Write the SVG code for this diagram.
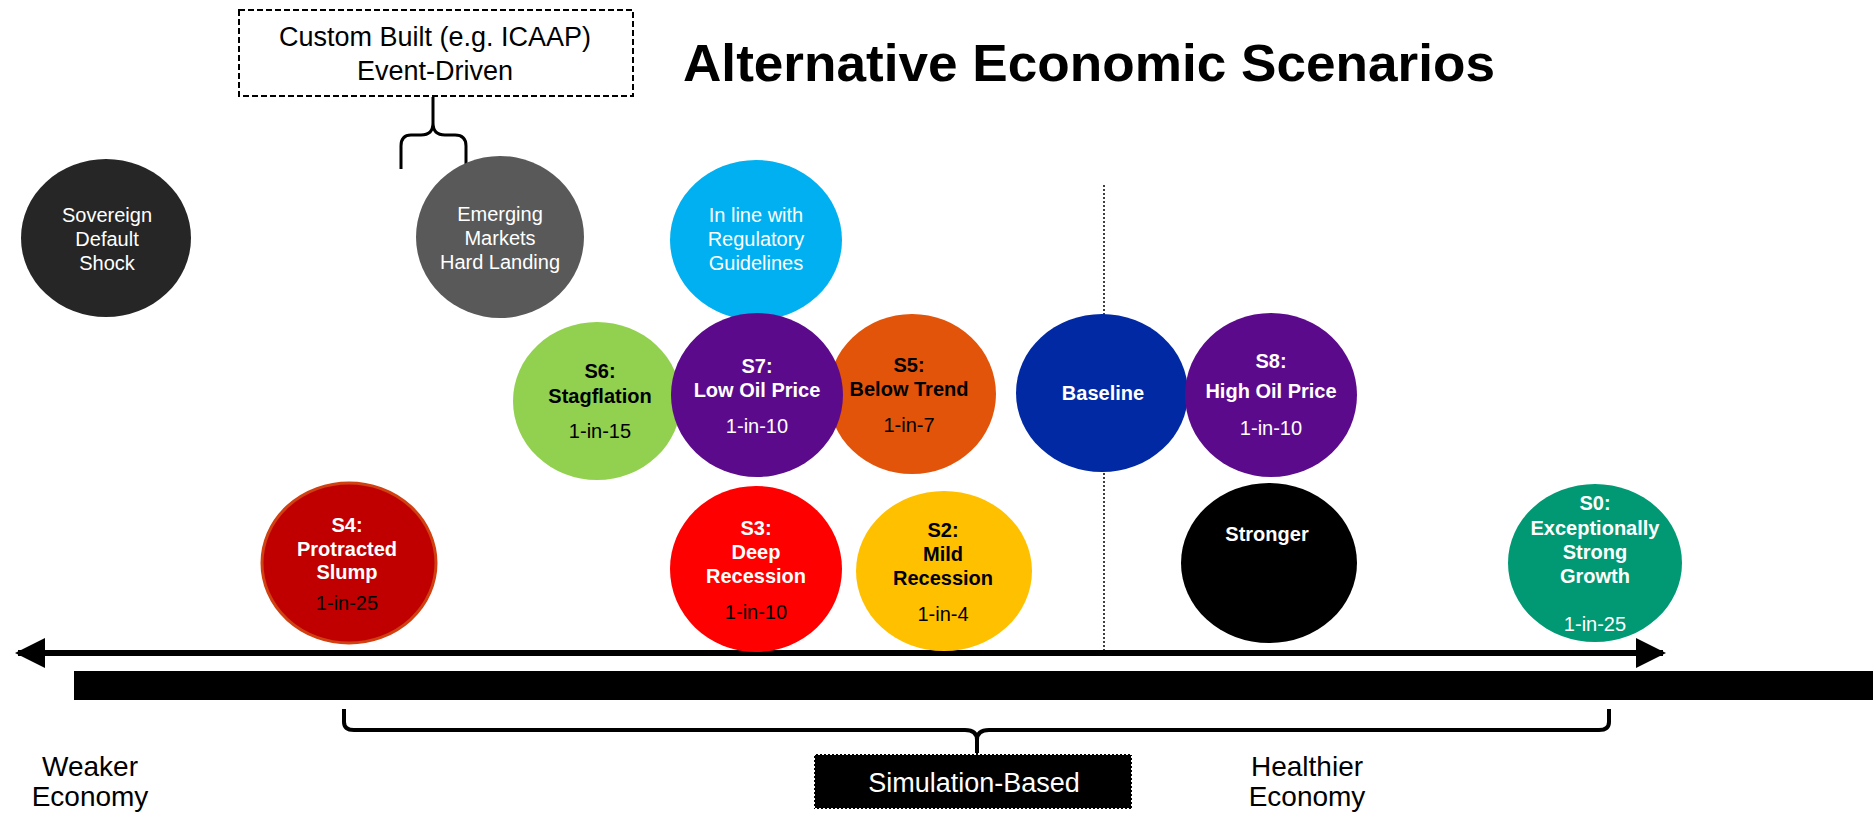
<svg xmlns="http://www.w3.org/2000/svg" width="1873" height="814" viewBox="0 0 1873 814">
  <style>
    text { font-family: "Liberation Sans", Arial, sans-serif; text-anchor: middle; }
    .t20 { font-size: 20px; }
    .b { font-weight: bold; }
    .w { fill: #ffffff; }
    .k { fill: #000000; }
    .brace { fill: none; stroke: #000; stroke-linecap: butt; stroke-linejoin: round; }
  </style>
  <defs>
    <marker id="head" viewBox="0 0 10 10" refX="9" refY="5" markerWidth="5" markerHeight="5" orient="auto-start-reverse" markerUnits="strokeWidth">
      <path d="M0,0 L10,5 L0,10 Z" fill="#000"/>
    </marker>
  </defs>
  <rect width="1873" height="814" fill="#ffffff"/>

  <!-- title -->
  <text id="title" x="1089" y="81" font-size="52" font-weight="bold" textLength="812" lengthAdjust="spacingAndGlyphs">Alternative Economic Scenarios</text>

  <!-- axis, divider and braces -->
  <g id="connectors">
    <line x1="1104" y1="185" x2="1104" y2="651" stroke="#000" stroke-width="1.5" stroke-dasharray="2 2"/>
    <line x1="18" y1="653" x2="1663" y2="653" stroke="#000" stroke-width="6" marker-start="url(#head)" marker-end="url(#head)"/>
    <rect x="74" y="671" width="1799" height="29" fill="#000"/>
    <path class="brace" stroke-width="3" d="M433,97 L433,123 Q433,135 421,135 L411,135 Q401,135 401,146 L401,169 M433,123 Q433,135 445,135 L455,135 Q466,135 466,146 L466,169"/>
    <path class="brace" stroke-width="4" d="M344,709 L344,722 Q344,730 354,730 L965,730 Q977,730 977,740 L977,754 M977,740 Q977,730 989,730 L1599,730 Q1609,730 1609,722 L1609,709"/>
  </g>

  <!-- labelled boxes and axis ends -->
  <g id="custom-built">
    <rect x="239" y="10" width="394" height="86" fill="#fff" stroke="#000" stroke-width="2" stroke-dasharray="6 3"/>
    <text x="435" y="46" font-size="27">Custom Built (e.g. ICAAP)</text>
    <text x="435" y="80" font-size="27">Event-Driven</text>
  </g>
  <g id="simulation-based">
    <rect x="814" y="754" width="318" height="55" fill="#000" stroke="#fff" stroke-width="2" stroke-dasharray="2 2"/>
    <text class="w" x="974" y="792" font-size="27">Simulation-Based</text>
  </g>
  <g id="weaker">
    <text x="90" y="776" font-size="28">Weaker</text>
    <text x="90" y="806" font-size="28">Economy</text>
  </g>
  <g id="healthier">
    <text x="1307" y="776" font-size="28">Healthier</text>
    <text x="1307" y="806" font-size="28">Economy</text>
  </g>

  <!-- scenario bubbles -->
  <g id="sovereign">
    <ellipse cx="106" cy="238" rx="85" ry="79" fill="#262626"/>
    <text class="t20 w" x="107" y="222">Sovereign</text>
    <text class="t20 w" x="107" y="246">Default</text>
    <text class="t20 w" x="107" y="270">Shock</text>
  </g>
  <g id="emerging">
    <ellipse cx="500" cy="237" rx="84" ry="81" fill="#595959"/>
    <text class="t20 w" x="500" y="221">Emerging</text>
    <text class="t20 w" x="500" y="245">Markets</text>
    <text class="t20 w" x="500" y="269">Hard Landing</text>
  </g>
  <g id="regulatory">
    <ellipse cx="756" cy="240" rx="86" ry="80" fill="#00B0F0"/>
    <text class="t20 w" x="756" y="222">In line with</text>
    <text class="t20 w" x="756" y="246">Regulatory</text>
    <text class="t20 w" x="756" y="270">Guidelines</text>
  </g>
  <g id="s6">
    <ellipse cx="597" cy="401" rx="84" ry="79" fill="#92D050"/>
    <text class="t20 b k" x="600" y="378">S6:</text>
    <text class="t20 b k" x="600" y="403">Stagflation</text>
    <text class="t20 k" x="600" y="438">1-in-15</text>
  </g>
  <g id="s5">
    <ellipse cx="912" cy="394" rx="84" ry="80" fill="#E2540A"/>
    <text class="t20 b k" x="909" y="372">S5:</text>
    <text class="t20 b k" x="909" y="396">Below Trend</text>
    <text class="t20 k" x="909" y="432">1-in-7</text>
  </g>
  <g id="s7">
    <ellipse cx="757" cy="395" rx="86" ry="82" fill="#5C0A8C"/>
    <text class="t20 b w" x="757" y="373">S7:</text>
    <text class="t20 b w" x="757" y="397">Low Oil Price</text>
    <text class="t20 w" x="757" y="433">1-in-10</text>
  </g>
  <g id="baseline">
    <ellipse cx="1102" cy="393" rx="86" ry="79" fill="#0029A3"/>
    <text class="t20 b w" x="1103" y="400">Baseline</text>
  </g>
  <g id="s8">
    <ellipse cx="1271" cy="395" rx="86" ry="82" fill="#5C0A8C"/>
    <text class="t20 b w" x="1271" y="368">S8:</text>
    <text class="t20 b w" x="1271" y="398">High Oil Price</text>
    <text class="t20 w" x="1271" y="435">1-in-10</text>
  </g>
  <g id="s4">
    <ellipse cx="349" cy="563" rx="87" ry="80" fill="#C00000" stroke="#D04010" stroke-width="3"/>
    <text class="t20 b w" x="347" y="532">S4:</text>
    <text class="t20 b w" x="347" y="556">Protracted</text>
    <text class="t20 b w" x="347" y="579">Slump</text>
    <text class="t20 k" x="347" y="610">1-in-25</text>
  </g>
  <g id="s3">
    <ellipse cx="756" cy="569" rx="86" ry="83" fill="#FF0000"/>
    <text class="t20 b w" x="756" y="535">S3:</text>
    <text class="t20 b w" x="756" y="559">Deep</text>
    <text class="t20 b w" x="756" y="583">Recession</text>
    <text class="t20 k" x="756" y="619">1-in-10</text>
  </g>
  <g id="s2">
    <ellipse cx="944" cy="571" rx="88" ry="80" fill="#FFC000"/>
    <text class="t20 b k" x="943" y="537">S2:</text>
    <text class="t20 b k" x="943" y="561">Mild</text>
    <text class="t20 b k" x="943" y="585">Recession</text>
    <text class="t20 k" x="943" y="621">1-in-4</text>
  </g>
  <g id="stronger">
    <ellipse cx="1269" cy="563" rx="88" ry="80" fill="#000000"/>
    <text class="t20 b w" x="1267" y="541">Stronger</text>
  </g>
  <g id="s0">
    <ellipse cx="1595" cy="563" rx="87" ry="79" fill="#009973"/>
    <text class="t20 b w" x="1595" y="510">S0:</text>
    <text class="t20 b w" x="1595" y="535">Exceptionally</text>
    <text class="t20 b w" x="1595" y="559">Strong</text>
    <text class="t20 b w" x="1595" y="583">Growth</text>
    <text class="t20 w" x="1595" y="631">1-in-25</text>
  </g>
</svg>
